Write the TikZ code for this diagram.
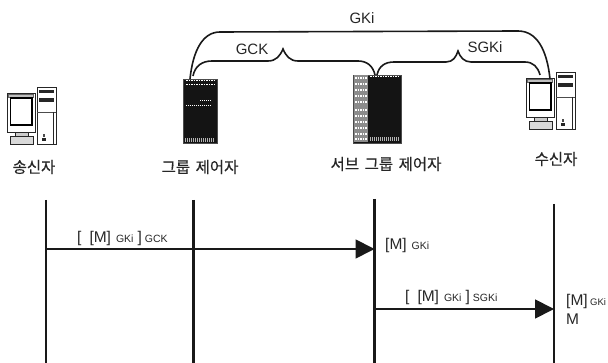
\documentclass[tikz,border=0pt]{standalone}
\usepackage{fontspec}
\setmainfont{Liberation Sans}
\newfontfamily\krfont[FakeBold=0.4,WordSpace=1.6]{Noto Sans CJK KR}
\usetikzlibrary{arrows.meta}
\tikzset{
  x=1pt,y=-1pt,
  life/.style={line width=2.5pt,black!90},
  msg/.style={line width=1.8pt,black!90,-{Triangle[length=19pt,width=19pt]}},
  curve/.style={line width=1.6pt,black!90},
  kr/.style={font=\krfont\fontsize{15.5}{17}\selectfont,inner sep=0pt,black!85},
  lab/.style={font=\fontsize{15}{17}\selectfont,inner sep=0pt,black!85},
  mlab/.style={font=\fontsize{15.5}{17}\selectfont,inner sep=0pt,anchor=base west,black!85},
  ctrl/.style={fill=black!92,draw=black!70,line width=.5pt,inner sep=0pt},
  pics/pc/.style={code={
    \draw[line width=.8pt,black!85,fill=white] (0,0) rectangle (28,39);
    \draw[line width=.5pt,black!60,fill=black!25] (1.5,1.5) rectangle (26.5,4);
    \draw[line width=1.3pt,black,fill=white] (3.5,5) rectangle (25,32);
    \draw[line width=.8pt,black!85,fill=black!20] (8,39) rectangle (21,43);
    \draw[line width=.9pt,black!85,fill=black!15] (3,43) rectangle (26,51);
    \draw[line width=.8pt,black!85,fill=white] (30,-6) rectangle (49,51);
    \fill[black!85] (32,-3) rectangle (47,0);
    \fill[black!85] (32,5) rectangle (47,9);
    \draw[line width=.5pt,black!70] (30,19) -- (49,19);
    \draw[line width=.8pt,black!85] (46,19) -- (46,51);
    \fill[black!85] (35,45) rectangle (39,48);
    \fill[black!70] (36.2,41) rectangle (37.8,44);
  }}
}
\begin{document}
\begin{tikzpicture}
\useasboundingbox (0,0) rectangle (608,363);
% devices
\pic at (7,93) {pc};
\pic at (526,78) {pc};
\node[ctrl,minimum width=34pt,minimum height=64pt] (gc) at (200,111) {};
\node[ctrl,minimum width=48pt,minimum height=68pt] (sgc) at (377,109) {};
\fill[black!45] (353.5,75.5) rectangle (368,142.5);
\foreach \yy in {78,84,90,96,102,110,116,122,128,134,139}
  \draw[white,line width=1.7pt,dash pattern=on 1.5pt off 1pt] (355,\yy) -- (367,\yy);
\draw[white,line width=1pt,dash pattern=on 1.5pt off 1pt] (370,77) -- (399,77);
\draw[white!70!black,line width=4pt,dash pattern=on 1pt off 1pt] (370,139) -- (400,139);
\draw[white,line width=1pt,dash pattern=on 1.5pt off 1pt] (186,81) -- (215,81);
\draw[white,line width=1pt,dash pattern=on 1.5pt off 1pt] (186,85) -- (215,85);
\draw[white,line width=.7pt,dash pattern=on 1pt off 1pt] (200,100) -- (212,100);
\draw[white,line width=.7pt,dash pattern=on 1pt off 1pt] (186,105) -- (212,105);
\draw[white!70!black,line width=3.5pt,dash pattern=on 1pt off 1pt] (185,140) -- (214,140);
% anchor points for the curves
\coordinate (g1) at (190,79);
\coordinate (g2) at (193,76);
\coordinate (s1) at (375,75);
\coordinate (s2) at (377,75);
\coordinate (r1) at (540,75);
\coordinate (r2) at (550,79);
\draw[curve] (g1) .. controls (193,50) and (203,32) .. (220,32) -- (518,31) .. controls (537,31) and (547,50) .. (r2);
\draw[curve] (g2) .. controls (195,66) and (202,61) .. (212,61) -- (268,61) .. controls (276,61) and (280,56) .. (283,49) .. controls (286,56) and (290,61) .. (298,61) -- (358,61) .. controls (367,61) and (373,66) .. (s1);
\draw[curve] (s2) .. controls (379,66) and (385,62) .. (394,62) -- (446,62) .. controls (453,62) and (456,57) .. (458,51) .. controls (460,57) and (464,62) .. (471,62) -- (525,62) .. controls (533,62) and (538,67) .. (r1);
% labels
\node[lab] (tgki) at (362,18) {GKi};
\node[lab] (tgck) at (252,49) {GCK};
\node[lab] (tsgki) at (485,47) {SGKi};
\node[kr] (t1) at (34,167) {송신자};
\node[kr] (t2) at (200,167) {그룹 제어자};
\node[kr] (t3) at (386,164) {서브 그룹 제어자};
\node[kr] (t4) at (556,159) {수신자};
% lifelines
\coordinate (a0) at (46,200); \coordinate (a1) at (46,363);
\coordinate (b0) at (193.5,200); \coordinate (b1) at (193.5,363);
\coordinate (c0) at (374.5,199); \coordinate (c1) at (374.5,363);
\coordinate (d0) at (554,204); \coordinate (d1) at (554,363);
\draw[life] (a0) -- (a1);
\draw[life] (b0) -- (b1);
\draw[life] (c0) -- (c1);
\draw[life] (d0) -- (d1);
% messages
\coordinate (m1s) at (46,249); \coordinate (m1e) at (374.5,249);
\coordinate (m2s) at (374.5,309); \coordinate (m2e) at (554,309);
\draw[msg] (m1s) -- (m1e);
\draw[msg] (m2s) -- (m2e);
\def\sbs#1{{\fontsize{10.5}{11}\selectfont #1}}
\node[mlab] (l1) at (77,243) {[\hspace{8pt}[M]\hspace{5pt}\sbs{GKi}\hspace{4pt}]\hspace{3pt}\sbs{GCK}};
\node[mlab] (l2) at (385,250) {[M]\hspace{5pt}\sbs{GKi}};
\node[mlab] (l3) at (405,301.5) {[\hspace{8pt}[M]\hspace{5pt}\sbs{GKi}\hspace{4pt}]\hspace{3pt}\sbs{SGKi}};
\node[mlab] (l4) at (566,305.5) {[M]\hspace{2.5pt}{\fontsize{9.5}{10}\selectfont GKi}};
\node[mlab] (l5) at (566,325) {M};
\end{tikzpicture}
\end{document}
